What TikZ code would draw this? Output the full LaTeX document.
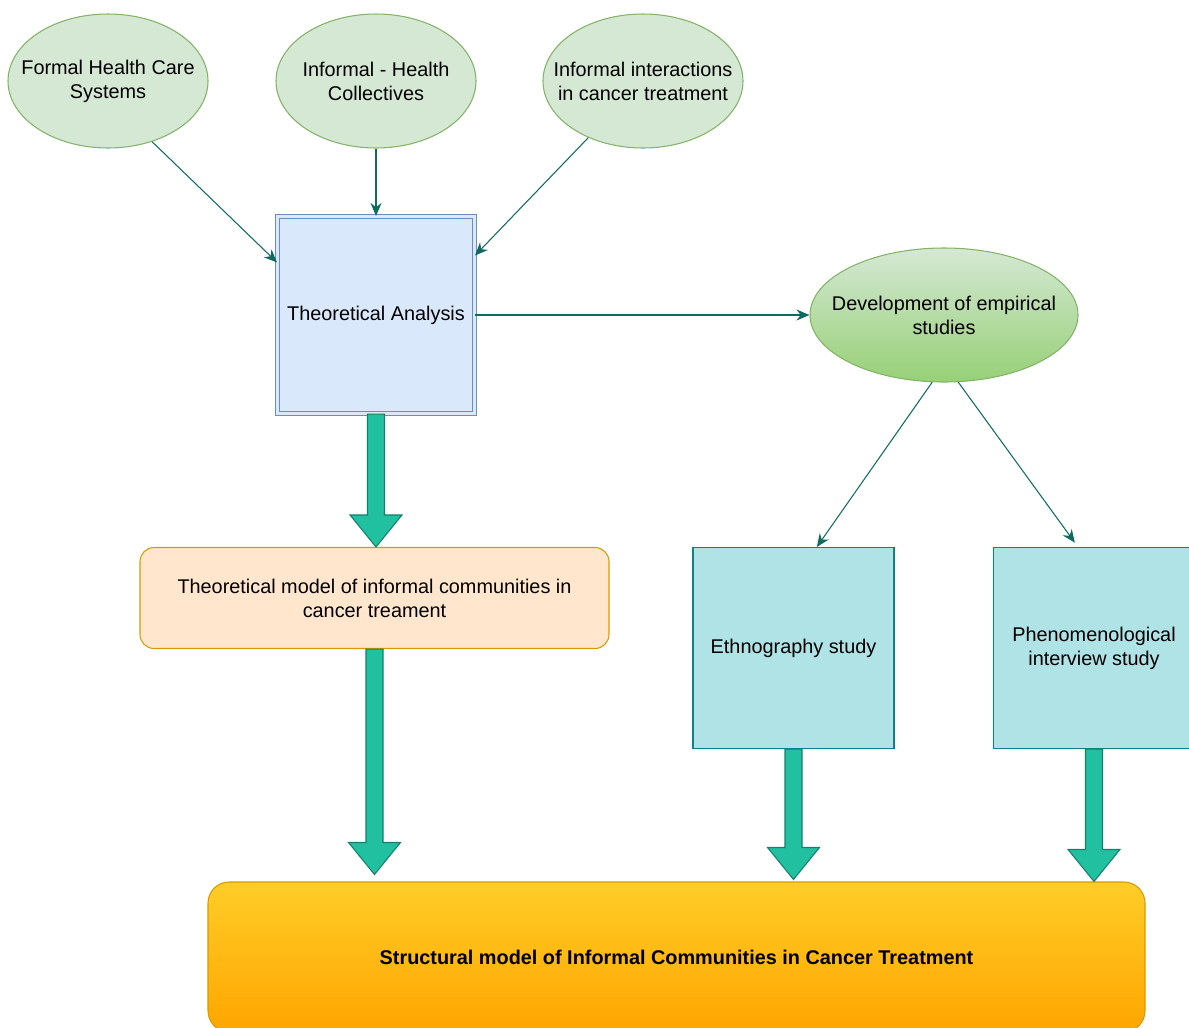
\documentclass[tikz,border=0pt]{standalone}
\usepackage{fontspec}
\setmainfont{Liberation Sans}
\usepackage{tikz}
\usetikzlibrary{shapes.geometric, arrows.meta, positioning, calc}
\definecolor{greenfill}{HTML}{D5E8D4}
\definecolor{greenline}{HTML}{82B366}
\definecolor{greendark}{HTML}{97D077}
\definecolor{bluefill}{HTML}{DAE8FC}
\definecolor{blueline}{HTML}{6C8EBF}
\definecolor{orangefill}{HTML}{FFE6CC}
\definecolor{orangeline}{HTML}{D79B00}
\definecolor{cyanfill}{HTML}{B0E3E6}
\definecolor{cyanline}{HTML}{0E8088}
\definecolor{goldtop}{HTML}{FFCD28}
\definecolor{goldbottom}{HTML}{FFA500}
\definecolor{arrowline}{HTML}{0F6B5F}
\definecolor{fatfill}{HTML}{21C0A0}
\definecolor{fatline}{HTML}{16806C}

% thick block arrow from #1 down to the tip #2
\newcommand{\fatarrow}[2]{%
  \draw[fat] ($#1+(-0.17,0)$) -- ($#2+(-0.17,0.64)$) -- ($#2+(-0.52,0.64)$) -- #2
    -- ($#2+(0.52,0.64)$) -- ($#2+(0.17,0.64)$) -- ($#1+(0.17,0)$) -- cycle;}

\begin{document}
\begin{tikzpicture}[
  font=\fontsize{11.3}{13.6}\selectfont,
  source/.style={ellipse, draw=greenline, fill=greenfill, line width=0.6pt, minimum width=4cm, minimum height=2.68cm, align=center, inner xsep=-0.4cm, inner ysep=0pt},
  devel/.style={ellipse, draw=greenline, line width=0.6pt, top color=greenfill, bottom color=greendark, minimum width=5.36cm, minimum height=2.68cm, align=center, inner xsep=-0.6cm, inner ysep=0pt},
  analysis/.style={rectangle, draw=blueline, double=bluefill, double distance=1.6pt, line width=0.6pt, fill=bluefill, minimum width=3.94cm, minimum height=3.94cm, align=center},
  model/.style={rectangle, draw=orangeline, fill=orangefill, rounded corners=8pt, line width=0.6pt, minimum width=9.38cm, minimum height=2.02cm, align=center},
  study/.style={rectangle, draw=cyanline, fill=cyanfill, line width=0.6pt, minimum width=4.02cm, minimum height=4.02cm, align=center},
  result/.style={rectangle, draw=orangeline, top color=goldtop, bottom color=goldbottom, rounded corners=12pt, line width=0.6pt, minimum width=18.74cm, minimum height=3cm, align=center, font=\fontsize{11.3}{13.6}\selectfont\bfseries},
  link/.style={draw=arrowline, line width=0.6pt, -{Stealth[length=2.6mm, width=2.2mm]}},
  fat/.style={draw=fatline, fill=fatfill, line width=0.6pt, line join=miter}
]
\useasboundingbox (0,0) rectangle (23.78,-20.54);

\node[source]   (formal)   at (2.16,-1.62)   {Formal Health Care\\Systems};
\node[source]   (collect)  at (7.52,-1.62)   {Informal - Health\\Collectives};
\node[source]   (interact) at (12.86,-1.62)  {Informal interactions\\in cancer treatment};
\node[analysis] (theory)   at (7.52,-6.30)   {Theoretical Analysis};
\node[devel]    (develop)  at (18.88,-6.30)  {Development of empirical\\studies};
\node[model]    (tmodel)   at (7.49,-11.96)  {Theoretical model of informal communities in\\cancer treament};
\node[study]    (ethno)    at (15.87,-12.96) {Ethnography study};
\node[study]    (pheno)    at (21.88,-12.96) {Phenomenological\\interview study};
\node[result]   (smodel)   at (13.53,-19.14) {Structural model of Informal Communities in Cancer Treatment};

\draw[link] (formal.-54) -- (theory.152);
\draw[link] (collect.south) -- (theory.north);
\draw[link] (interact.-134) -- (theory.31);
\draw[link] (theory.east) -- (develop.west);
\draw[link] (develop.-100) -- (ethno.77);
\draw[link, shorten >=3pt] (develop.-78) -- (pheno.99);

\fatarrow{(theory.south)}{(theory.south |- tmodel.north)}
\fatarrow{(tmodel.south)}{($(tmodel.south |- smodel.north)+(0,0.14)$)}
\fatarrow{(ethno.south)}{($(ethno.south |- smodel.north)+(0,0.04)$)}
\fatarrow{(pheno.south)}{(pheno.south |- smodel.north)}
\end{tikzpicture}
\end{document}
